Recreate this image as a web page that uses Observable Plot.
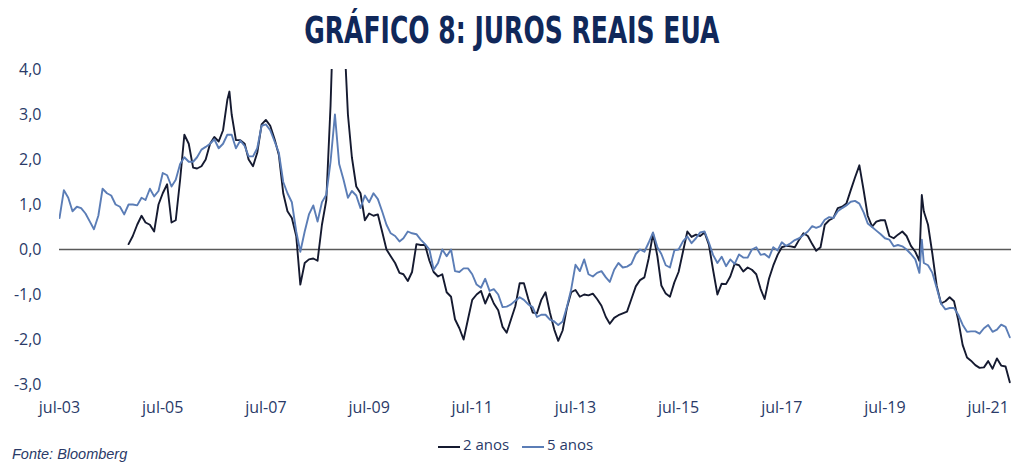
<!DOCTYPE html>
<html>
<head>
<meta charset="utf-8">
<script src="https://cdn.jsdelivr.net/npm/d3@7"></script>
<script src="https://cdn.jsdelivr.net/npm/@observablehq/plot@0.6"></script>
<style>
html, body { margin: 0; padding: 0; background: #fff; }
#wrap { position: relative; width: 1024px; height: 475px; overflow: hidden; font-family: "Open Sans", "Noto Sans", sans-serif; }
#title { position: absolute; top: 12px; left: 0; width: 1024px; text-align: center; }
#title span { display: inline-block; font-family: "Liberation Sans Narrow", "DejaVu Sans Condensed", "Roboto", sans-serif; font-weight: 700; font-size: 37px; color: #10285a; transform-origin: center; white-space: nowrap; line-height: 1; }
#chart { position: absolute; top: 60px; left: 0; }
.sw { position: absolute; top: 446px; width: 22px; height: 2px; }
.lt { position: absolute; top: 437px; font-size: 15px; line-height: 1; color: #2a3a68; white-space: nowrap; }
#caption { position: absolute; left: 12px; top: 447px; font-family: "Liberation Sans", "Open Sans", sans-serif; font-style: italic; font-size: 14.5px; line-height: 1; color: #2a3a68; white-space: nowrap; }
</style>
</head>
<body>
<div id="wrap">
  <div id="title"><span id="titleText">GRÁFICO 8: JUROS REAIS EUA</span></div>
  <div id="chart"></div>
  <span class="sw" style="left:438px;background:#151a30"></span><span class="lt" style="left:463px">2 anos</span>
  <span class="sw" style="left:522px;background:#5b7db6"></span><span class="lt" style="left:547px">5 anos</span>
  <div id="caption">Fonte: Bloomberg</div>
</div>
<script>
// Dates (monthly, plus two mid-month spike observations)
const dates = [
  "2003-07","2003-08","2003-09","2003-10","2003-11","2003-12",
  "2004-01","2004-02","2004-03","2004-04","2004-05","2004-06","2004-07","2004-08","2004-09","2004-10","2004-11","2004-12",
  "2005-01","2005-02","2005-03","2005-04","2005-05","2005-06","2005-07","2005-08","2005-09","2005-10","2005-11","2005-12",
  "2006-01","2006-02","2006-03","2006-04","2006-05","2006-06","2006-07","2006-08","2006-09","2006-10","2006-10-16","2006-11","2006-12",
  "2007-01","2007-02","2007-03","2007-04","2007-05","2007-06","2007-07","2007-08","2007-09","2007-10","2007-11","2007-12",
  "2008-01","2008-02","2008-03","2008-04","2008-05","2008-06","2008-07","2008-08","2008-09","2008-10","2008-11","2008-12",
  "2009-01","2009-02","2009-03","2009-04","2009-05","2009-06","2009-07","2009-08","2009-09","2009-10","2009-11","2009-12",
  "2010-01","2010-02","2010-03","2010-04","2010-05","2010-06","2010-07","2010-08","2010-09","2010-10","2010-11","2010-12",
  "2011-01","2011-02","2011-03","2011-04","2011-05","2011-06","2011-07","2011-08","2011-09","2011-10","2011-11","2011-12",
  "2012-01","2012-02","2012-03","2012-04","2012-05","2012-06","2012-07","2012-08","2012-09","2012-10","2012-11","2012-12",
  "2013-01","2013-02","2013-03","2013-04","2013-05","2013-06","2013-07","2013-08","2013-09","2013-10","2013-11","2013-12",
  "2014-01","2014-02","2014-03","2014-04","2014-05","2014-06","2014-07","2014-08","2014-09","2014-10","2014-11","2014-12",
  "2015-01","2015-02","2015-03","2015-04","2015-05","2015-06","2015-07","2015-08","2015-09","2015-10","2015-11","2015-12",
  "2016-01","2016-02","2016-03","2016-04","2016-05","2016-06","2016-07","2016-08","2016-09","2016-10","2016-11","2016-12",
  "2017-01","2017-02","2017-03","2017-04","2017-05","2017-06","2017-07","2017-08","2017-09","2017-10","2017-11","2017-12",
  "2018-01","2018-02","2018-03","2018-04","2018-05","2018-06","2018-07","2018-08","2018-09","2018-10","2018-11","2018-12",
  "2019-01","2019-02","2019-03","2019-04","2019-05","2019-06","2019-07","2019-08","2019-09","2019-10","2019-11","2019-12",
  "2020-01","2020-02","2020-03","2020-03-18","2020-04","2020-05","2020-06","2020-07","2020-08","2020-09","2020-10","2020-11","2020-12",
  "2021-01","2021-02","2021-03","2021-04","2021-05","2021-06","2021-07","2021-08","2021-09","2021-10","2021-11","2021-12"
];

// 2 anos (real yield, %)
const anos2 = [
  null,null,null,null,null,null,
  null,null,null,null,null,null,null,null,null,null,0.12,0.30,
  0.55,0.75,0.60,0.55,0.40,1.00,1.25,1.45,0.60,0.65,1.55,2.55,
  2.35,1.82,1.80,1.85,2.00,2.35,2.50,2.40,2.65,3.32,3.51,3.00,2.43,
  2.43,2.35,2.00,1.85,2.15,2.78,2.88,2.75,2.45,2.10,1.25,0.85,
  0.70,0.30,-0.78,-0.30,-0.22,-0.20,-0.25,0.55,1.10,3.20,6.30,6.50,
  5.05,3.00,2.05,1.40,1.25,0.65,0.80,0.75,0.78,0.40,0.00,-0.15,
  -0.30,-0.52,-0.55,-0.70,-0.50,0.12,0.10,0.10,-0.25,-0.50,-0.60,-0.55,
  -0.95,-1.05,-1.55,-1.75,-2.00,-1.55,-1.12,-1.00,-0.92,-1.20,-0.98,-1.20,
  -1.35,-1.72,-1.85,-1.55,-1.26,-0.75,-0.75,-1.10,-1.40,-1.42,-1.12,-0.95,
  -1.40,-1.78,-2.03,-1.80,-1.30,-0.95,-0.90,-1.05,-1.00,-1.02,-0.98,-1.10,
  -1.25,-1.50,-1.65,-1.52,-1.46,-1.42,-1.38,-1.10,-0.82,-0.68,-0.62,-0.20,
  0.35,-0.15,-0.80,-0.98,-1.05,-0.73,-0.50,-0.05,0.40,0.28,0.33,0.30,
  0.38,0.10,-0.45,-1.00,-0.76,-0.77,-0.60,-0.32,-0.35,-0.49,-0.40,-0.45,
  -0.55,-0.88,-1.10,-0.65,-0.36,-0.12,0.05,0.08,0.07,0.05,0.22,0.36,
  0.30,0.12,-0.03,0.05,0.55,0.65,0.70,0.92,0.95,1.02,1.32,1.60,
  1.87,1.30,0.75,0.51,0.62,0.65,0.65,0.30,0.25,0.33,0.40,0.30,
  0.08,-0.05,-0.25,1.21,0.85,0.55,-0.10,-0.80,-1.20,-1.15,-1.06,-1.15,-1.57,
  -2.12,-2.40,-2.47,-2.57,-2.63,-2.62,-2.48,-2.65,-2.42,-2.58,-2.60,-2.95
];

// 5 anos (real yield, %)
const anos5 = [
  0.70,1.32,1.15,0.85,0.95,0.92,
  0.80,0.62,0.45,0.75,1.35,1.25,1.20,1.00,0.95,0.78,1.00,1.00,
  0.98,1.15,1.10,1.35,1.18,1.30,1.70,1.65,1.40,1.55,1.90,2.05,
  1.95,1.95,2.05,2.22,2.28,2.35,2.45,2.25,2.35,2.55,2.55,2.55,2.25,
  2.42,2.30,2.07,2.07,2.25,2.75,2.78,2.65,2.40,2.15,1.50,1.25,
  1.05,0.40,-0.05,0.40,0.78,0.98,0.62,1.05,1.22,1.95,3.00,1.90,
  1.55,1.15,1.30,1.20,0.92,1.20,1.05,1.25,1.12,0.85,0.55,0.36,
  0.30,0.18,0.25,0.40,0.36,0.34,0.22,0.12,0.00,-0.45,-0.30,0.00,
  -0.15,0.00,-0.48,-0.50,-0.42,-0.42,-0.55,-0.78,-0.85,-0.65,-0.92,-0.88,
  -1.00,-1.28,-1.27,-1.22,-1.14,-1.06,-1.12,-1.22,-1.28,-1.50,-1.45,-1.45,
  -1.56,-1.60,-1.68,-1.60,-1.28,-0.88,-0.34,-0.48,-0.22,-0.55,-0.60,-0.52,
  -0.48,-0.62,-0.72,-0.45,-0.30,-0.40,-0.38,-0.32,-0.10,0.00,-0.05,0.15,
  0.38,0.05,-0.10,-0.35,-0.40,-0.02,0.00,0.18,0.29,0.14,0.25,0.38,
  0.40,0.15,-0.12,-0.30,-0.16,-0.37,-0.22,-0.32,-0.11,-0.18,-0.18,0.00,
  0.05,-0.12,-0.10,-0.18,0.05,-0.02,0.16,0.08,0.14,0.21,0.25,0.32,
  0.40,0.52,0.48,0.52,0.66,0.72,0.70,0.85,0.92,0.98,1.06,1.08,
  1.02,0.82,0.58,0.50,0.42,0.34,0.25,0.22,0.07,0.10,0.07,0.00,
  -0.10,-0.22,-0.52,0.22,-0.30,-0.35,-0.52,-0.85,-1.20,-1.33,-1.30,-1.30,-1.45,
  -1.67,-1.83,-1.82,-1.82,-1.87,-1.75,-1.68,-1.83,-1.78,-1.67,-1.72,-1.95
];

const xTickDates = ["2003-07","2005-07","2007-07","2009-07","2011-07","2013-07","2015-07","2017-07","2019-07","2021-07"];
const xTickLabels = ["jul-03","jul-05","jul-07","jul-09","jul-11","jul-13","jul-15","jul-17","jul-19","jul-21"];
const yTicks = [4, 3, 2, 1, 0, -1, -2, -3];
const yTickLabels = ["4,0","3,0","2,0","1,0","0,0","-1,0","-2,0","-3,0"];

const parse = s => new Date(s.length === 7 ? s + "-01" : s);
const rows2 = [], rows5 = [];
dates.forEach((d, i) => {
  const t = parse(d);
  if (anos2[i] != null) rows2.push({date: t, value: anos2[i]});
  if (anos5[i] != null) rows5.push({date: t, value: anos5[i]});
});
const xTickTimes = xTickDates.map(parse);

const chart = Plot.plot({
  width: 1024,
  height: 372,
  marginLeft: 59,
  marginRight: 13,
  marginTop: 9,
  marginBottom: 48,
  style: {fontFamily: "'Open Sans', 'Noto Sans', sans-serif", fontSize: "16px", color: "#2a3a68", background: "transparent", overflow: "visible"},
  x: {
    type: "utc",
    domain: [parse("2003-07"), parse("2021-12-13")],
    ticks: xTickTimes,
    tickFormat: d => xTickLabels[xTickTimes.findIndex(t => +t === +d)],
    tickSize: 0,
    tickPadding: 17,
    label: null
  },
  y: {
    domain: [-3, 4],
    ticks: yTicks,
    tickFormat: d => yTickLabels[yTicks.indexOf(d)],
    tickSize: 0,
    tickPadding: 18,
    label: null
  },
  marks: [
    Plot.ruleY([0], {stroke: "#595959", strokeWidth: 1.3}),
    Plot.line(rows2, {x: "date", y: "value", stroke: "#151a30", strokeWidth: 1.9, clip: true}),
    Plot.line(rows5, {x: "date", y: "value", stroke: "#5b7db6", strokeWidth: 1.9, clip: true})
  ]
});
document.getElementById("chart").appendChild(chart);

const tt = document.getElementById("titleText");
const w = tt.getBoundingClientRect().width;
if (w > 0) tt.style.transform = "scaleX(" + (415 / w) + ")";
</script>
</body>
</html>
